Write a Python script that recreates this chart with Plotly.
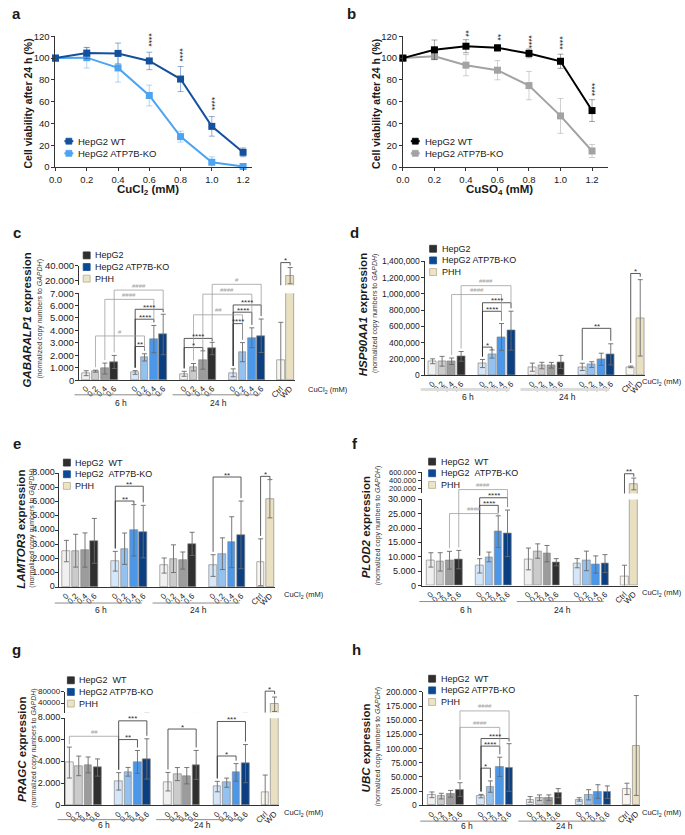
import plotly.graph_objects as go

W, H = 685, 835
FONT = "Arial, Liberation Sans, Helvetica, sans-serif"
TXT = "#1a1a1a"
AX = "#333333"

# ---------------- panels a / b : viability ----------------
CONC = [0.0, 0.2, 0.4, 0.6, 0.8, 1.0, 1.2]
A_WT = [100, 104.6, 104.3, 97.4, 80.8, 37.4, 13.6]
A_WT_SD = [0, 5, 9.5, 8, 11.5, 9, 4]
A_KO = [100, 100.4, 91, 65.7, 28, 4.5, 0.6]
A_KO_SD = [0, 9.5, 13, 9.5, 5, 5, 2]
A_STARS = ["", "", "", "****", "****", "****", ""]
A_STAR_Y = [0, 0, 0, 116, 103, 58, 0]

B_WT = [100, 107.6, 110.9, 109.4, 104.3, 97.1, 51.9]
B_WT_SD = [0, 9, 6, 3, 4, 6.5, 10]
B_KO = [100, 101.6, 93.5, 88.9, 74.8, 47, 14.8]
B_KO_SD = [0, 2, 9.7, 8.8, 13, 16, 6]
B_STARS = ["", "", "**", "**", "****", "****", "****"]
B_STAR_Y = [0, 0, 122, 119, 114.6, 114, 70.8]

# ---------------- panels c-h : expression ----------------
DOSES = ["0", "0.2", "0.4", "0.6"]
PHH_LABELS = ["Ctrl", "WD"]
TIME_LABELS = ["6 h", "24 h"]
# order: WT 6h (4), KO 6h (4), WT 24h (4), KO 24h (4), PHH Ctrl, PHH WD
C_MEAN = [550, 713, 925, 1453, 607, 1822, 3300, 3670, 500, 1030, 1610, 2535, 580, 2245, 3407, 3565, 1640, 26700]
C_SD = [200, 80, 440, 530, 150, 290, 1100, 1630, 200, 300, 740, 500, 320, 770, 800, 1350, 3010, 11000]
D_MEAN = [170000, 170000, 170000, 230000, 142000, 259000, 469000, 546000, 97000, 117000, 121000, 162000, 101000, 129000, 194000, 255000, 101000, 704000]
D_SD = [30000, 60000, 40000, 60000, 50000, 50000, 165000, 240000, 50000, 40000, 35000, 80000, 45000, 35000, 75000, 130000, 10000, 470000]
E_MEAN = [2536, 2560, 2605, 3250, 1820, 2700, 3990, 3900, 1520, 2000, 1870, 3040, 1520, 2350, 3160, 3670, 1750, 6200]
E_SD = [750, 1150, 1200, 1570, 690, 1100, 1800, 1840, 530, 970, 600, 810, 760, 1110, 1780, 2370, 1640, 1340]
F_MEAN = [8930, 8240, 8820, 9040, 6870, 9960, 18780, 18200, 9270, 12020, 11110, 8130, 7790, 8590, 7330, 7670, 3090, 317000]
F_SD = [2500, 3200, 3100, 3200, 2500, 1700, 5500, 8100, 3800, 2500, 2850, 1250, 1600, 3400, 3000, 3100, 4000, 140000]
G_MEAN = [3925, 3620, 3710, 3470, 2200, 3080, 3985, 4260, 2170, 2870, 2720, 3710, 1720, 2080, 3020, 3830, 1240, 37000]
G_SD = [1420, 900, 730, 790, 800, 400, 1050, 1850, 850, 600, 750, 1330, 480, 420, 810, 1750, 1540, 25000]
H_MEAN = [18550, 16230, 20290, 27830, 16230, 33040, 67830, 66670, 10430, 13330, 13330, 21450, 10430, 18550, 24350, 23190, 28990, 105500]
H_SD = [5000, 5000, 6000, 12000, 3000, 10000, 17000, 42000, 5000, 5000, 5000, 8000, 3000, 9000, 12000, 11000, 10000, 88000]

# significance brackets: (bar i, bar j, height, label, on broken-axis top segment)
C_BRACKETS = [(4, 5, 2700, "**", 0), (4, 6, 4900, "****", 0), (4, 7, 5700, "****", 0),
              (1, 5, 3550, "#", 0), (2, 6, 6500, "####", 0), (3, 7, 7250, "####", 0),
              (8, 10, 2615, "*", 0), (8, 11, 3354, "****", 0),
              (12, 13, 4543, "****", 0), (12, 14, 5467, "****", 0), (12, 15, 6049, "****", 0),
              (9, 13, 5256, "##", 0), (10, 14, 6920, "####", 0), (11, 15, 7713, "#", 0),
              (16, 17, 44400, "*", 1)]
D_BRACKETS = [(4, 5, 344000, "*", 0), (4, 6, 785000, "****", 0), (4, 7, 890000, "****", 0),
              (2, 6, 991000, "####", 0), (3, 7, 1100000, "####", 0),
              (12, 15, 575000, "**", 0), (16, 17, 1250000, "*", 0)]
E_BRACKETS = [(4, 6, 6040, "**", 0), (4, 7, 7078, "**", 0), (12, 15, 7723, "**", 0), (16, 17, 7770, "*", 0)]
F_BRACKETS = [(2, 6, 25075, "####", 0), (4, 6, 27937, "****", 0), (4, 7, 30570, "****", 0),
              (3, 7, 33430, "####", 0), (16, 17, 560000, "**", 1)]
G_BRACKETS = [(4, 6, 6038, "**", 0), (0, 4, 6340, "##", 0), (4, 7, 7758, "***", 0),
              (8, 11, 7004, "*", 0), (12, 14, 4528, "*", 0), (12, 15, 7698, "***", 0),
              (16, 17, 82400, "*", 1)]
H_BRACKETS = [(4, 5, 65500, "*", 0), (4, 6, 104350, "****", 0), (4, 7, 117700, "****", 0),
              (3, 6, 137400, "####", 0), (3, 7, 166400, "####", 0)]

C_YTICKS = [0, 1000, 2000, 3000, 4000, 5000, 6000, 7000]
C_YTICKS_TOP = [20000, 40000]
D_YTICKS = [0, 200000, 400000, 600000, 800000, 1000000, 1200000, 1400000]
E_YTICKS = [0, 1000, 2000, 3000, 4000, 5000, 6000, 7000, 8000]
F_YTICKS = [0, 5000, 10000, 15000, 20000, 25000, 30000]
F_YTICKS_TOP = [200000, 400000, 600000]
G_YTICKS = [0, 2000, 4000, 6000, 8000]
G_YTICKS_TOP = [40000, 80000]
H_YTICKS = [0, 25000, 50000, 75000, 100000, 125000, 150000, 175000, 200000]

# ---------------- layout of categories ----------------
GROUP_STEP = 5.25
PHH_GAP = 2.1
BAR_POS = [g * GROUP_STEP + k for g in range(4) for k in range(4)]
BAR_POS += [BAR_POS[-1] + PHH_GAP + k for k in range(2)]
TICK_TEXT = DOSES * 4 + PHH_LABELS

WT_SHADES = ["#f0f0f0", "#cbcbcb", "#9c9c9c", "#2f2f2f"]
KO_SHADES = ["#d5e6f8", "#93c1f0", "#4b97e9", "#0b3f80"]
PHH_SHADES = ["#f8f6ee", "#e9e0c2"]
BAR_COLORS = WT_SHADES + KO_SHADES + WT_SHADES + KO_SHADES + PHH_SHADES


def dot_fmt(v):
    return f"{v:,}".replace(",", ".")


def comma_fmt(v):
    return f"{v:,}"


def plain_fmt(v):
    return f"{v}"


fig = go.Figure()
layout = {}
shapes = []
annos = []
# overlay text layer (pixel coordinates of the whole figure)
lab_x, lab_y, lab_t, lab_s = [], [], [], []


def text(xpx, ypx, s, size=10, color=TXT, xanchor="center", yanchor="middle", angle=0):
    annos.append(dict(x=xpx / W, y=1 - ypx / H, xref="paper", yref="paper", text=s, showarrow=False,
                      font=dict(size=size, color=color, family=FONT), xanchor=xanchor,
                      yanchor=yanchor, textangle=angle, borderpad=0))


def seg(x0, y0, x1, y1, color, width=1):
    shapes.append(dict(type="line", xref="paper", yref="paper", x0=x0 / W, y0=1 - y0 / H,
                       x1=x1 / W, y1=1 - y1 / H, line=dict(color=color, width=width)))


def box(x0, y0, x1, y1, fill, edge=None):
    shapes.append(dict(type="rect", xref="paper", yref="paper", x0=x0 / W, y0=1 - y0 / H,
                       x1=x1 / W, y1=1 - y1 / H, fillcolor=fill,
                       line=dict(color=edge or fill, width=0.8)))


def axis_common(size=9.5):
    return dict(showline=True, linecolor=AX, linewidth=1, showgrid=False, zeroline=False,
                tickfont=dict(size=size, color=TXT, family=FONT), ticks="outside", ticklen=3,
                tickcolor=AX, fixedrange=True, ticklabeloverflow="allow")


# ---------------- line panels ----------------
LINE_PANELS = [
    dict(n=1, letter="a", wt=A_WT, wtsd=A_WT_SD, ko=A_KO, kosd=A_KO_SD, stars=A_STARS, stary=A_STAR_Y,
         xpx=(49, 248), xmax=1.26, ypx=(163.3, 30.7), wtc="#15509c", koc="#4ca3f2",
         wte="rgba(21,80,156,0.45)", koe="rgba(76,163,242,0.45)",
         xtitle="<b>CuCl<sub>2</sub> (mM)</b>", lx=58, ytx=21),
    dict(n=2, letter="b", wt=B_WT, wtsd=B_WT_SD, ko=B_KO, kosd=B_KO_SD, stars=B_STARS, stary=B_STAR_Y,
         xpx=(400, 607), xmax=1.30, ypx=(163.3, 30.7), wtc="#000000", koc="#a3a3a3",
         wte="rgba(0,0,0,0.35)", koe="rgba(150,150,150,0.45)",
         xtitle="<b>CuSO<sub>4</sub> (mM)</b>", lx=408, ytx=372),
]

for P in LINE_PANELS:
    n = P["n"]
    xs = "" if n == 1 else str(n)
    xa = dict(axis_common(9.5), domain=[P["xpx"][0] / W, P["xpx"][1] / W], range=[0, P["xmax"]],
              anchor="y" + xs, tickvals=CONC, ticktext=[f"{c:.1f}" for c in CONC])
    ya = dict(axis_common(9.5), domain=[1 - P["ypx"][0] / H, 1 - P["ypx"][1] / H], range=[0, 120],
              anchor="x" + xs, tickvals=[0, 20, 40, 60, 80, 100, 120])
    layout["xaxis" + xs] = xa
    layout["yaxis" + xs] = ya
    for ys, sd, col, ecol in ((P["ko"], P["kosd"], P["koc"], P["koe"]),
                              (P["wt"], P["wtsd"], P["wtc"], P["wte"])):
        fig.add_trace(go.Scatter(x=CONC, y=ys, mode="lines+markers", xaxis="x" + xs, yaxis="y" + xs,
                                 line=dict(color=col, width=2),
                                 marker=dict(symbol="square", size=7, color=col),
                                 error_y=dict(type="data", array=sd, color=ecol, thickness=1, width=3),
                                 cliponaxis=False, showlegend=False, hoverinfo="skip"))
    x0, x1 = P["xpx"]
    y0, y1 = P["ypx"]
    for c, s, yv in zip(CONC, P["stars"], P["stary"]):
        if s:
            text(x0 + c / P["xmax"] * (x1 - x0), y0 + yv / 120 * (y1 - y0), s, size=8.5, angle=90)
    # axis titles
    text((x0 + x1) / 2 - 6, 186.5, P["xtitle"], size=11.5)
    text(P["ytx"], (y0 + y1) / 2 + 2, "<b>Cell viability after 24 h (%)</b>", size=10.5, angle=-90)
    # legend
    for row, (lab, col) in enumerate((("HepG2 WT", P["wtc"]), ("HepG2 ATP7B-KO", P["koc"]))):
        ly = 137 + row * 12.3
        lx = P["lx"]
        seg(lx, ly, lx + 9, ly, col, 2)
        box(lx + 1.5, ly - 3, lx + 7.5, ly + 3, col)
        text(lx + 13, ly, lab, size=9.5, xanchor="left")
    text(x0 - 39 if n == 1 else x0 - 52, 8, "<b>%s</b>" % P["letter"], size=15)

# ---------------- bar panels ----------------
BAR_PANELS = [
    dict(letter="c", gene="GABARALP1", mean=C_MEAN, sd=C_SD, br=C_BRACKETS, nb=3, nt=4,
         yt=C_YTICKS, ytop=C_YTICKS_TOP, fmt=dot_fmt, fmt_top=dot_fmt, fs=9.5, fs_top=9.5,
         p0=80, slot=9.43, left=-0.77, right=22.4, yb=(379, 291, 7000), top=(283, 263.3, 13700, 40000),
         legend=("HepG2", "HepG2 ATP7B-KO", "PHH"), lgx=77, lgy=252.7, letter_xy=(10, 230),
         title_x=20, sub_x=33, title_y=318, cucl=(303, 389), grp=(394, 402), grp_w=1, grp_c="#8c8c8c",
         overlay=False),
    dict(letter="d", gene="HSP90AA1", mean=D_MEAN, sd=D_SD, br=D_BRACKETS, nb=5, nt=None,
         yt=D_YTICKS, fmt=comma_fmt, fs=8.5,
         p0=430, slot=9.6, left=-0.76, right=22.4, yb=(374, 258.7, 1400000), top=None,
         legend=("HepG2", "HepG2 ATP7B-KO", "PHH"), lgx=427, lgy=246, letter_xy=(351, 230),
         title_x=360, sub_x=372, title_y=313, cucl=(641, 381), grp=(388.5, 396), grp_w=3, grp_c="#dcdcdc",
         overlay=False),
    dict(letter="e", gene="LAMTOR3", mean=E_MEAN, sd=E_SD, br=E_BRACKETS, nb=6, nt=None,
         yt=E_YTICKS, fmt=dot_fmt, fs=9,
         p0=60, slot=9.41, left=-0.78, right=22.4, yb=(589, 473.3, 8000), top=None,
         legend=("HepG2\u00a0\u00a0WT", "HepG2\u00a0\u00a0ATP7B-KO", "PHH"), lgx=57, lgy=462.7,
         letter_xy=(10, 443), title_x=14, sub_x=25, title_y=530, cucl=(279, 597), grp=(605, 612.5),
         grp_w=1, grp_c="#8c8c8c", overlay=True),
    dict(letter="f", gene="PLOD2", mean=F_MEAN, sd=F_SD, br=F_BRACKETS, nb=7, nt=8,
         yt=F_YTICKS, ytop=F_YTICKS_TOP, fmt=dot_fmt, fmt_top=dot_fmt, fs=9, fs_top=7.5,
         p0=428.3, slot=9.38, left=-1.0, right=22.35, yb=(587.3, 500, 30000), top=(494, 472.3, 89400, 600000),
         legend=("HepG2\u00a0\u00a0WT", "HepG2\u00a0\u00a0ATP7B-KO", "PHH"), lgx=426, lgy=461.7,
         letter_xy=(352, 443), title_x=363, sub_x=375, title_y=528, cucl=(641, 595), grp=(603.5, 612),
         grp_w=1, grp_c="#8c8c8c", overlay=False),
    dict(letter="g", gene="PRAGC", mean=G_MEAN, sd=G_SD, br=G_BRACKETS, nb=9, nt=10,
         yt=G_YTICKS, ytop=G_YTICKS_TOP, fmt=dot_fmt, fmt_top=plain_fmt, fs=9, fs_top=8,
         p0=63, slot=9.49, left=-0.5, right=22.3, yb=(810, 721.7, 8000), top=(716, 695, 8200, 80000),
         legend=("HepG2\u00a0\u00a0WT", "HepG2 ATP7B-KO", "PHH"), lgx=61, lgy=683.3,
         letter_xy=(10, 652), title_x=15, sub_x=27, title_y=753, cucl=(279, 818), grp=(824.5, 830),
         grp_w=1, grp_c="#8c8c8c", overlay=True),
    dict(letter="h", gene="UBC", mean=H_MEAN, sd=H_SD, br=H_BRACKETS, nb=11, nt=None,
         yt=H_YTICKS, fmt=dot_fmt, fs=8.5,
         p0=429.3, slot=9.45, left=-0.98, right=22.3, yb=(810, 695, 200000), top=None,
         legend=("HepG2\u00a0\u00a0WT", "HepG2 ATP7B-KO", "PHH"), lgx=426, lgy=681.7,
         letter_xy=(353, 652), title_x=363, sub_x=375, title_y=752, cucl=(641, 818), grp=(826, 831),
         grp_w=1, grp_c="#8c8c8c", overlay=False),
]

LEGEND_COLORS = ["#2f2f2f", "#0b4a93", "#ece4c6"]


def gx(P, p):
    return P["p0"] + p * P["slot"]


def gy(P, v, top=False):
    if top:
        lo, hi, vlo, vhi = P["top"]
        return lo + (v - vlo) / (vhi - vlo) * (hi - lo)
    y0, y1, ymax = P["yb"]
    return y0 + v / ymax * (y1 - y0)


def gy_auto(P, v):
    if P["top"] and v > P["yb"][2]:
        if v >= P["top"][2]:
            return gy(P, v, True)
        return P["top"][0]
    return gy(P, v)


def tick_label(P, xpx, ypx, s, size):
    if P["overlay"]:
        lab_x.append(xpx)
        lab_y.append(ypx)
        lab_t.append(s)
        lab_s.append(size)
    else:
        text(xpx, ypx, s, size=size, xanchor="right")


for P in BAR_PANELS:
    nb, nt = P["nb"], P["nt"]
    xl, xr = gx(P, P["left"]), gx(P, P["right"])
    y0, y1, ymax = P["yb"]
    layout["xaxis%d" % nb] = dict(axis_common(), domain=[xl / W, xr / W], range=[P["left"], P["right"]],
                                  anchor="y%d" % nb, ticks="", tickvals=BAR_POS, ticktext=TICK_TEXT,
                                  tickangle=-45, tickfont=dict(size=8, color=TXT, family=FONT))
    layout["yaxis%d" % nb] = dict(axis_common(P["fs"]), domain=[1 - y0 / H, 1 - y1 / H], range=[0, ymax],
                                  anchor="x%d" % nb, tickvals=P["yt"], showticklabels=False)
    for v in P["yt"]:
        tick_label(P, xl - 4.5, gy(P, v), P["fmt"](v), P["fs"])
    fig.add_trace(go.Bar(x=BAR_POS, y=P["mean"], width=0.82, xaxis="x%d" % nb, yaxis="y%d" % nb,
                         marker=dict(color=BAR_COLORS, line=dict(color="#8a8a8a", width=0.7)),
                         error_y=dict(type="data", array=P["sd"], color="#6a6a6a", thickness=0.9, width=2.5),
                         showlegend=False, hoverinfo="skip"))
    if nt:
        lo, hi, vlo, vhi = P["top"]
        layout["xaxis%d" % nt] = dict(domain=[xl / W, xr / W], range=[P["left"], P["right"]],
                                      anchor="y%d" % nt, visible=False, fixedrange=True)
        layout["yaxis%d" % nt] = dict(axis_common(P["fs_top"]), domain=[1 - lo / H, 1 - hi / H],
                                      range=[vlo, vhi], anchor="x%d" % nt, tickvals=P["ytop"],
                                      showticklabels=False)
        for v in P["ytop"]:
            tick_label(P, xl - 4.5, gy(P, v, True), P["fmt_top"](v), P["fs_top"])
        fig.add_trace(go.Bar(x=BAR_POS, y=P["mean"], width=0.82, xaxis="x%d" % nt, yaxis="y%d" % nt,
                             marker=dict(color=BAR_COLORS, line=dict(color="#8a8a8a", width=0.7)),
                             error_y=dict(type="data", array=P["sd"], color="#6a6a6a", thickness=0.9, width=2.5),
                             showlegend=False, hoverinfo="skip"))
    # brackets
    for (i, j, yv, lab, on_top) in P["br"]:
        col = "#a0a0a0" if "#" in lab else "#303030"
        x1p, x2p = gx(P, BAR_POS[i]), gx(P, BAR_POS[j])
        yl = gy(P, yv, bool(on_top))
        for k, xx in ((i, x1p), (j, x2p)):
            eb = gy_auto(P, P["mean"][k] + P["sd"][k]) - 3
            if on_top:
                eb = min(eb, P["top"][0])
            eb = max(eb, yl + 3)
            seg(xx, yl, xx, eb, col, 0.8)
        seg(x1p, yl, x2p, yl, col, 0.8)
        if "#" in lab:
            text((x1p + x2p) / 2, yl - 4.5, lab, size=6, color=col)
        else:
            text((x1p + x2p) / 2, yl - 2, lab, size=8, color=col)
    # group lines and labels
    gy_line, gy_text = P["grp"]
    for gi, lab in enumerate(TIME_LABELS):
        a_ = BAR_POS[gi * 8]
        b_ = BAR_POS[gi * 8 + 7]
        seg(gx(P, a_ - 1.25), gy_line, gx(P, b_ - 0.15), gy_line, P["grp_c"], P["grp_w"])
        text(gx(P, (a_ + b_) / 2 - 0.4), gy_text, lab, size=8.5)
    text(P["cucl"][0], P["cucl"][1], "CuCl<sub>2</sub> (mM)", size=7.5, xanchor="left")
    # legend
    for r, (lab, col) in enumerate(zip(P["legend"], LEGEND_COLORS)):
        ly = P["lgy"] + r * 11.8
        box(P["lgx"], ly - 3.5, P["lgx"] + 7, ly + 3.5, col, "#b5ad90" if r == 2 else col)
        text(P["lgx"] + 11, ly, lab, size=9, xanchor="left")
    # titles
    text(P["title_x"], P["title_y"], "<b><i>%s</i> expression</b>" % P["gene"], size=11.5, angle=-90)
    text(P["sub_x"], P["title_y"] - 1, "(normalized copy numbers to <i>GAPDH</i>)", size=7, color="#333", angle=-90)
    text(P["letter_xy"][0], P["letter_xy"][1], "<b>%s</b>" % P["letter"], size=15)

# full-figure overlay for the y tick labels of panels e and g
layout["xaxis30"] = dict(domain=[0, 1], range=[0, W], visible=False, fixedrange=True, anchor="y30")
layout["yaxis30"] = dict(domain=[0, 1], range=[H, 0], visible=False, fixedrange=True, anchor="x30")
fig.add_trace(go.Scatter(x=lab_x, y=lab_y, text=lab_t, mode="text", textposition="middle left",
                         textfont=dict(size=lab_s, color=TXT, family=FONT), xaxis="x30", yaxis="y30",
                         cliponaxis=False, showlegend=False, hoverinfo="skip"))

layout.update(dict(width=W, height=H, margin=dict(l=0, r=0, t=0, b=0), paper_bgcolor="white",
                   plot_bgcolor="rgba(0,0,0,0)", showlegend=False, shapes=shapes, annotations=annos,
                   font=dict(family=FONT, color=TXT), bargap=0))
fig.update_layout(**layout)
fig.write_html("out.html")
